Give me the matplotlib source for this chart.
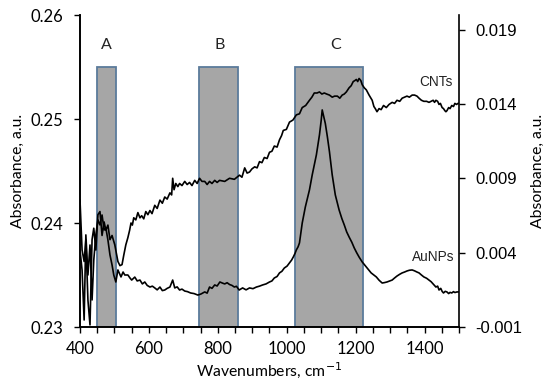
import numpy as np
import matplotlib
matplotlib.use('Agg')
import matplotlib.pyplot as plt

# CNTs spectrum (left axis)
cnt_x = [400, 406, 412, 417, 423, 429, 435, 440, 446, 452, 458, 464, 470, 475, 481, 487, 493, 501,
         510, 516, 522, 527, 533, 539, 544, 548, 552, 556, 562, 568, 574, 579, 585, 591, 597, 603,
         609, 617, 624, 632, 639, 646, 653, 661, 666, 669, 673, 678, 684, 689, 696, 704, 711, 718,
         725, 733, 740, 747, 754, 762, 769, 776, 783, 791, 798, 805, 820, 834, 848, 863, 870, 878,
         885, 892, 899, 907, 914, 921, 928, 935, 943, 950, 957, 964, 972, 979, 985, 990, 999, 1008,
         1018, 1028, 1037, 1045, 1055, 1066, 1073, 1080, 1088, 1095, 1102, 1109, 1116, 1124, 1132,
         1139, 1147, 1154, 1161, 1167, 1173, 1181, 1187, 1193, 1198, 1202, 1206, 1210, 1215, 1219,
         1225, 1231, 1239, 1248, 1253, 1257, 1262, 1268, 1274, 1281, 1289, 1297, 1306, 1313, 1320,
         1328, 1335, 1342, 1349, 1356, 1364, 1371, 1378, 1384, 1391, 1398, 1406, 1413, 1419, 1425,
         1429, 1433, 1438, 1442, 1446, 1451, 1455, 1459, 1462, 1465, 1470, 1474, 1479, 1484, 1488,
         1493, 1497, 1500]
cnt_y = [0.2422, 0.2374, 0.2363, 0.2384, 0.2326, 0.2302, 0.2384, 0.2395, 0.2374, 0.2408, 0.2411,
         0.2388, 0.2401, 0.2393, 0.2398, 0.2384, 0.2388, 0.2379, 0.2363, 0.2359, 0.2360, 0.2369,
         0.2379, 0.2386, 0.2393, 0.2400, 0.2398, 0.2405, 0.2403, 0.2410, 0.2405, 0.2407, 0.2404,
         0.2411, 0.2408, 0.2412, 0.2409, 0.2417, 0.2414, 0.2422, 0.2419, 0.2425, 0.2423, 0.2429,
         0.2427, 0.2443, 0.2432, 0.2438, 0.2435, 0.2438, 0.2436, 0.2440, 0.2437, 0.2439, 0.2436,
         0.2441, 0.2438, 0.2443, 0.2440, 0.2440, 0.2437, 0.2440, 0.2438, 0.2441, 0.2439, 0.2441,
         0.2440, 0.2443, 0.2442, 0.2446, 0.2444, 0.2453, 0.2448, 0.2449, 0.2452, 0.2454, 0.2453,
         0.2459, 0.2458, 0.2463, 0.2462, 0.2468, 0.2469, 0.2474, 0.2473, 0.2480, 0.2484, 0.2489,
         0.2490, 0.2497, 0.2499, 0.2504, 0.2505, 0.2511, 0.2513, 0.2518, 0.2521, 0.2525, 0.2525,
         0.2526, 0.2524, 0.2525, 0.2524, 0.2523, 0.2521, 0.2522, 0.2522, 0.2520, 0.2523, 0.2524,
         0.2526, 0.2530, 0.2532, 0.2536, 0.2537, 0.2538, 0.2536, 0.2539, 0.2537, 0.2533, 0.2530,
         0.2528, 0.2523, 0.2518, 0.2512, 0.2510, 0.2507, 0.2510, 0.2509, 0.2513, 0.2511, 0.2514,
         0.2516, 0.2515, 0.2518, 0.2517, 0.2520, 0.2521, 0.2522, 0.2521, 0.2523, 0.2523, 0.2522,
         0.2520, 0.2518, 0.2517, 0.2517, 0.2516, 0.2517, 0.2518, 0.2516, 0.2518, 0.2517, 0.2514,
         0.2515, 0.2511, 0.2510, 0.2508, 0.2507, 0.2508, 0.2511, 0.2510, 0.2513, 0.2512, 0.2515,
         0.2514, 0.2515, 0.2515]

# AuNPs spectrum (right axis)
au_x = [400, 406, 412, 417, 423, 429, 435, 440, 446, 452, 458, 464, 470, 475, 481, 487, 493, 498, 504,
        510, 519, 525, 530, 539, 545, 550, 559, 566, 574, 581, 588, 595, 603, 610, 617, 624, 632, 639,
        646, 653, 661, 669, 675, 682, 689, 696, 704, 712, 721, 731, 742, 751, 762, 769, 776, 783, 791,
        798, 806, 814, 820, 827, 834, 841, 848, 854, 862, 872, 882, 892, 902, 912, 921, 930, 940, 950,
        957, 964, 972, 979, 986, 993, 1001, 1008, 1014, 1019, 1024, 1028, 1033, 1037, 1045, 1054, 1066,
        1074, 1086, 1095, 1100, 1103, 1107, 1112, 1118, 1124, 1132, 1141, 1152, 1160, 1167, 1174, 1181,
        1189, 1196, 1203, 1210, 1219, 1231, 1245, 1253, 1260, 1268, 1277, 1284, 1291, 1299, 1306, 1313,
        1320, 1328, 1335, 1342, 1349, 1356, 1364, 1371, 1378, 1384, 1391, 1398, 1406, 1413, 1419, 1425,
        1433, 1438, 1442, 1447, 1451, 1455, 1460, 1465, 1470, 1474, 1479, 1484, 1488, 1494, 1500]
au_y = [0.00419, 0.00284, -0.00053, 0.00520, 0.00250, 0.00452, 0.00082, 0.00351, 0.00520, 0.00621,
        0.00587, 0.00654, 0.00553, 0.00567, 0.00486, 0.00385, 0.00318, 0.00250, 0.00203, 0.00284,
        0.00237, 0.00270, 0.00250, 0.00250, 0.00230, 0.00216, 0.00236, 0.00210, 0.00216, 0.00190,
        0.00203, 0.00180, 0.00169, 0.00175, 0.00163, 0.00150, 0.00169, 0.00145, 0.00149, 0.00160,
        0.00169, 0.00216, 0.00163, 0.00170, 0.00149, 0.00155, 0.00142, 0.00138, 0.00129, 0.00125,
        0.00115, 0.00122, 0.00136, 0.00128, 0.00169, 0.00160, 0.00183, 0.00176, 0.00203, 0.00195,
        0.00190, 0.00198, 0.00186, 0.00180, 0.00169, 0.00174, 0.00149, 0.00163, 0.00150, 0.00163,
        0.00158, 0.00169, 0.00175, 0.00183, 0.00190, 0.00203, 0.00210, 0.00230, 0.00240, 0.00264,
        0.00275, 0.00297, 0.00310, 0.00331, 0.00350, 0.00371, 0.00395, 0.00419, 0.00440, 0.00466,
        0.00600, 0.00708, 0.00823, 0.00924, 0.01058, 0.01193, 0.01290, 0.01361, 0.01320, 0.01270,
        0.01180, 0.01080, 0.00924, 0.00789, 0.00688, 0.00630, 0.00587, 0.00540, 0.00506, 0.00470,
        0.00432, 0.00400, 0.00371, 0.00338, 0.00304, 0.00264, 0.00250, 0.00237, 0.00215, 0.00196,
        0.00199, 0.00203, 0.00210, 0.00216, 0.00230, 0.00243, 0.00255, 0.00264, 0.00270, 0.00277,
        0.00282, 0.00284, 0.00278, 0.00270, 0.00264, 0.00250, 0.00237, 0.00228, 0.00216, 0.00205,
        0.00190, 0.00169, 0.00175, 0.00149, 0.00160, 0.00140, 0.00129, 0.00140, 0.00136, 0.00125,
        0.00133, 0.00129, 0.00138, 0.00132, 0.00136, 0.00136]

# shaded regions
reg_labels = ['A', 'B', 'C']
reg_start = [450, 745, 1025]
reg_end = [505, 860, 1220]
reg_top = 0.255
reg_label_x = [478, 805, 1143]
reg_label_y = 0.2564

plt.rcParams['font.family'] = ['Lato', 'DejaVu Sans']

fig = plt.figure(figsize=(5.5, 3.87), dpi=100)
ax = fig.add_axes([80/550, 60/387, 379/550, 312/387])
ax2 = ax.twinx()

widths = [e - s for s, e in zip(reg_start, reg_end)]
ax.bar(reg_start, [reg_top - 0.23]*3, width=widths, bottom=0.23, align='edge',
       color='#a6a6a6', edgecolor='#5b7b9b', linewidth=1.3, zorder=1)
for lab, lx in zip(reg_labels, reg_label_x):
    ax.text(lx, reg_label_y, lab, ha='center', va='bottom', fontsize=11.5, color='#222222')

ax.plot(cnt_x, cnt_y, color='black', lw=1.2, zorder=3)
ax2.plot(au_x, au_y, color='black', lw=1.2)

ax.text(1433, 0.2536, 'CNTs', ha='center', va='center', fontsize=9.8,
        family=['Liberation Sans'], color='#222222')
ax2.text(1425, 0.0037, 'AuNPs', ha='center', va='center', fontsize=9.8,
         family=['Liberation Sans'], color='#222222')

ax.set_xlim(400, 1500)
ax.set_ylim(0.23, 0.26)
ax2.set_ylim(-0.001, 0.020)
ax.set_xticks([400, 600, 800, 1000, 1200, 1400])
ax.set_xticks(np.arange(400, 1501, 50), minor=True)
ax.set_yticks([0.23, 0.24, 0.25, 0.26])
ax.set_yticklabels(['0.23', '0.24', '0.25', '0.26'])
ax2.set_yticks([-0.001, 0.004, 0.009, 0.014, 0.019])
ax2.set_yticklabels(['-0.001', '0.004', '0.009', '0.014', '0.019'], family=['Liberation Sans'])

ax.tick_params(axis='x', which='both', direction='out', length=4, width=1, labelsize=12, pad=6)
ax.tick_params(axis='y', direction='out', length=4, width=1, labelsize=12, pad=8)
ax2.tick_params(axis='y', direction='out', length=4, width=1, labelsize=12, pad=8)

for a in (ax, ax2):
    a.spines['top'].set_visible(False)
    for s in a.spines.values():
        s.set_linewidth(1.2)
ax.spines['right'].set_visible(False)

ax.set_xlabel('Wavenumbers, cm$^{-1}$', fontsize=11.3, labelpad=2)
ax.set_ylabel('Absorbance, a.u.', fontsize=11.3, labelpad=4)
ax2.set_ylabel('Absorbance, a.u.', fontsize=11.3, rotation=90, labelpad=6)

fig.savefig('out.png', dpi=100)
